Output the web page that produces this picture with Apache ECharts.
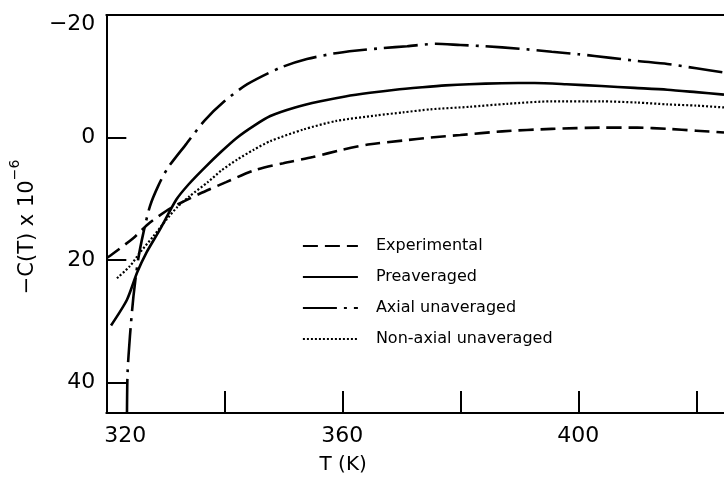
<!DOCTYPE html>
<html>
<head>
<meta charset="utf-8">
<script src="https://cdn.jsdelivr.net/npm/echarts@6/dist/echarts.min.js"></script>
<style>
html,body{margin:0;padding:0;background:#fff;}
#chart{width:724px;height:481px;}
</style>
</head>
<body>
<div id="chart"></div>
<script>
// ---- data ----
var seriesNames = ['Experimental', 'Preaveraged', 'Axial unaveraged', 'Non-axial unaveraged'];

var expT = [320.2, 321.1, 324.6, 327.4, 331.0, 335.8, 340.3, 345.0, 350, 355, 360, 364.7, 370.3, 375, 380, 387.1, 395.5, 403.9, 410, 415.1, 420, 424.7];
var expC = [19.6, 19.0, 16.4, 13.9, 11.5, 9.2, 7.3, 5.4, 4.2, 3.2, 2.0, 1.1, 0.5, 0.0, -0.4, -1.0, -1.4, -1.6, -1.6, -1.4, -1.1, -0.8];

var preT = [320.8, 323.5, 325.2, 326.8, 329.1, 331.9, 334, 336.6, 339.5, 342.2, 345, 347.8, 352, 356.3, 360.5, 364.7, 369, 373.6, 377.5, 381.5, 387, 392.6, 398, 403.9, 409.5, 415.1, 420, 424.7];
var preC = [30.7, 26.5, 22.1, 18.8, 15.0, 10.1, 7.6, 5.0, 2.3, 0.0, -1.9, -3.5, -4.9, -5.9, -6.7, -7.3, -7.8, -8.2, -8.5, -8.7, -8.85, -8.9, -8.7, -8.4, -8.1, -7.8, -7.4, -7.0];

var axT = [323.5, 323.6, 324.0, 324.6, 325.4, 326.3, 327.4, 328.8, 330.4, 333.6, 336.6, 340.0, 343.9, 349.5, 354, 358.5, 362.5, 366.9, 371, 375.8, 380, 384.2, 390, 395.5, 400, 405.5, 410, 415.1, 420, 424.7];
var axC = [45, 38.4, 32.5, 25.9, 19.9, 15.5, 11.2, 7.9, 5.0, 1.0, -2.7, -5.9, -8.7, -11.4, -12.8, -13.7, -14.2, -14.6, -14.9, -15.3, -15.1, -14.9, -14.5, -14.0, -13.6, -13.0, -12.5, -12.0, -11.3, -10.6];

var nonT = [321.8, 324.0, 325.7, 328.0, 330.2, 332.0, 334.1, 337.2, 339.5, 342.2, 345, 347.8, 353.4, 359.0, 365.8, 370.3, 375, 381.5, 388, 395.5, 403.9, 410, 415.1, 420, 424.7];
var nonC = [23.0, 21.0, 18.8, 16.1, 13.4, 11.4, 9.6, 7.3, 5.4, 3.6, 2.0, 0.6, -1.3, -2.7, -3.6, -4.1, -4.6, -5.0, -5.5, -5.9, -5.9, -5.7, -5.4, -5.2, -4.9];

var xTickLabels = ['320', '360', '400'];

// ---- build ----
function pairs(t, c) { return t.map(function (v, i) { return [v, c[i]]; }); }

var FONT = 'DejaVu Sans';
var chart = echarts.init(document.getElementById('chart'), null, {renderer: 'canvas'});

var baseLine = function (type, width) {
  return {color: '#000', width: width, type: type, cap: 'butt'};
};

var option = {
  backgroundColor: '#fff',
  animation: false,
  grid: {left: 101, top: 15, width: 623, height: 398, containLabel: false},
  legend: {
    orient: 'vertical',
    left: 297,
    top: 233,
    itemWidth: 55,
    itemHeight: 14,
    itemGap: 15,
    itemStyle: {opacity: 0},
    lineStyle: {width: 1.8},
    textStyle: {fontFamily: FONT, fontSize: 16, color: '#000', padding: [0, 0, 0, 13]},
    data: seriesNames
  },
  xAxis: [{
    type: 'value',
    min: 320,
    max: 424.7,
    interval: 20,
    position: 'bottom',
    axisLine: {show: true, onZero: false, lineStyle: {color: '#000', width: 2}},
    axisTick: {show: true, inside: true, length: 22, lineStyle: {color: '#000', width: 2}},
    splitLine: {show: false},
    axisLabel: {
      showMaxLabel: false,
      margin: 12,
      color: '#000',
      fontFamily: FONT,
      fontSize: 22,
      formatter: function (v) {
        var s = String(Math.round(v));
        if (xTickLabels.indexOf(s) < 0) return '';
        if (s === '320') return '{f|' + s + '}';
        return s;
      },
      rich: {f: {fontFamily: FONT, fontSize: 22, color: '#000', padding: [0, 0, 0, 38]}}
    },
    name: 'T (K)',
    nameLocation: 'middle',
    nameGap: 42,
    nameTextStyle: {fontFamily: FONT, fontSize: 20, color: '#000', padding: [0, 144, 0, 0]}
  }, {
    type: 'value',
    min: 320,
    max: 424.7,
    position: 'top',
    axisLine: {show: true, onZero: false, lineStyle: {color: '#000', width: 2}},
    axisTick: {show: false},
    axisLabel: {show: false},
    splitLine: {show: false}
  }],
  yAxis: {
    type: 'value',
    inverse: true,
    min: -20,
    max: 45,
    interval: 20,
    axisLine: {show: true, onZero: false, lineStyle: {color: '#000', width: 2}},
    axisTick: {show: true, inside: true, length: 20, lineStyle: {color: '#000', width: 2}},
    splitLine: {show: false},
    axisLabel: {
      showMaxLabel: false,
      margin: 11,
      color: '#000',
      fontFamily: FONT,
      fontSize: 22,
      formatter: function (v) {
        if (v > 40) return '';
        var s = v < 0 ? '\u2212' + Math.abs(v) : String(v);
        if (v === -20) return '{t|' + s + '}';
        return s;
      },
      rich: {t: {fontFamily: FONT, fontSize: 22, color: '#000', padding: [18, 0, 0, 0]}}
    },
    name: '{b|\u2212C(T) x 10}{s|\u22126}',
    nameLocation: 'middle',
    nameRotate: 90,
    nameGap: 62,
    nameTextStyle: {
      padding: [0, 26, 0, 0],
      rich: {
        b: {fontFamily: FONT, fontSize: 21, color: '#000', verticalAlign: 'bottom', lineHeight: 30},
        s: {fontFamily: FONT, fontSize: 14, color: '#000', verticalAlign: 'top', lineHeight: 30}
      }
    }
  },
  series: [
    {name: seriesNames[0], type: 'line', data: pairs(expT, expC), showSymbol: false, symbol: 'none', smooth: 0.25,
      lineStyle: baseLine([15, 7], 2.6)},
    {name: seriesNames[1], type: 'line', data: pairs(preT, preC), showSymbol: false, symbol: 'none', smooth: 0.25,
      lineStyle: baseLine('solid', 2.6)},
    {name: seriesNames[2], type: 'line', data: pairs(axT, axC), showSymbol: false, symbol: 'none', smooth: 0.25,
      lineStyle: baseLine([34, 7, 3, 7], 2.6)},
    {name: seriesNames[3], type: 'line', data: pairs(nonT, nonC), showSymbol: false, symbol: 'none', smooth: 0.25,
      lineStyle: baseLine([2, 2], 2.2)}
  ]
};
chart.setOption(option);
</script>
</body>
</html>
